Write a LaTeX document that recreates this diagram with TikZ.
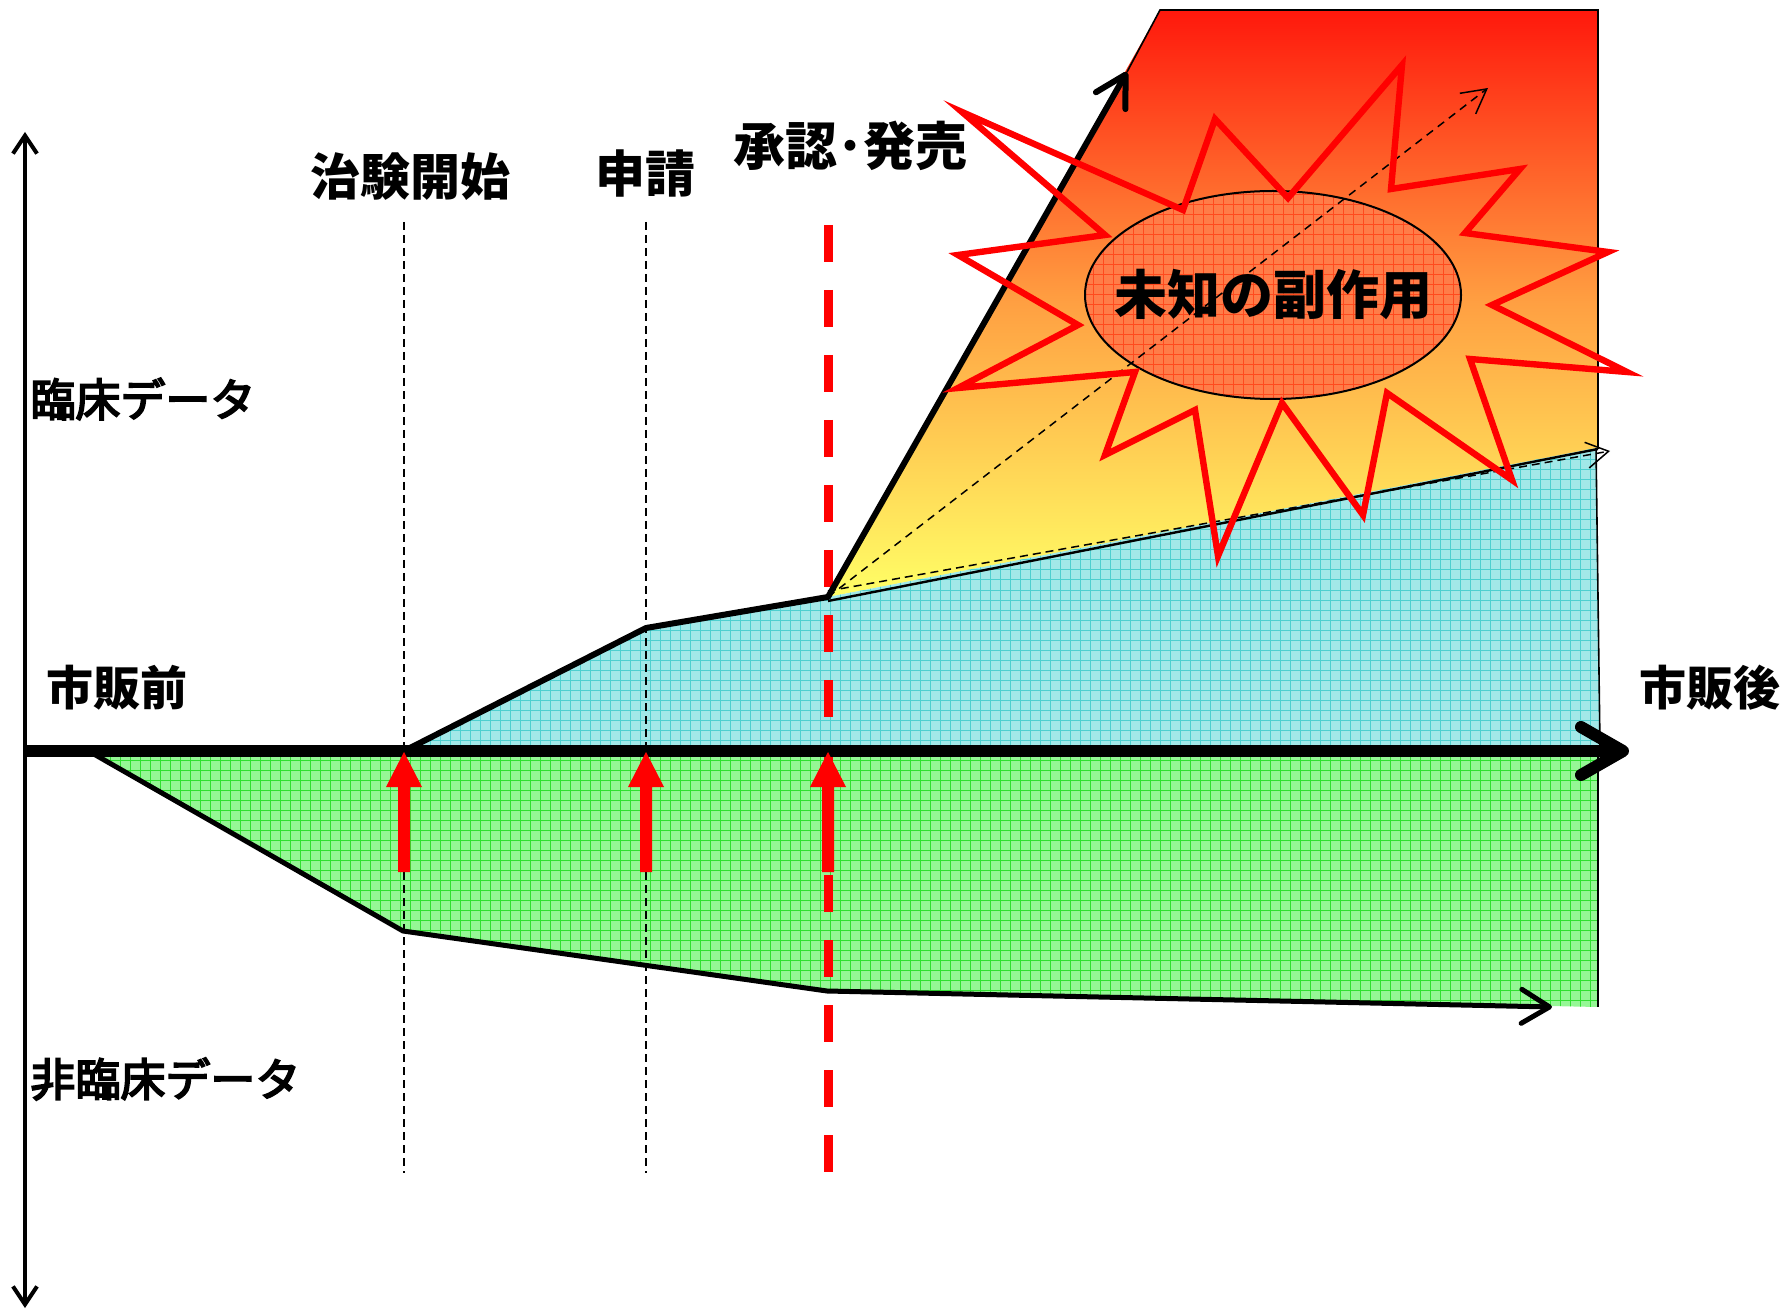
\documentclass[tikz,border=0pt]{standalone}
\usepackage{fontspec}
\newfontfamily\jp{Noto Sans CJK JP}
\newfontfamily\jpm{Noto Sans CJK JP}[FakeBold=4]
\usetikzlibrary{arrows.meta,shapes.geometric}
\definecolor{cyanfill}{HTML}{A2E8E8}
\definecolor{cyangrid}{HTML}{4ECFCF}
\definecolor{greenfill}{HTML}{95F795}
\definecolor{greengrid}{HTML}{30E030}
\definecolor{ellfill}{HTML}{FF7C48}
\definecolor{ellgrid}{HTML}{FF4A1E}
\definecolor{gradtop}{HTML}{FF180C}
\definecolor{gradmid}{HTML}{FFA042}
\definecolor{gradbot}{HTML}{FFFF66}
\tikzset{
  lab/.style={font={\jp\bfseries\fontsize{25pt}{30pt}\selectfont}, inner sep=0pt},
  labs/.style={font={\jpm\fontsize{22.5pt}{27pt}\selectfont}, inner sep=0pt},
  gridfill/.style 2 args={fill=#1, path picture={\draw[#2, line width=0.5pt, step=5pt]
      ([shift={(-10pt,-10pt)}]path picture bounding box.south west) grid
      ([shift={(10pt,10pt)}]path picture bounding box.north east);}},
  thinrule/.style={line width=0.6pt, dash pattern=on 4pt off 2.5pt},
  redrule/.style={red, line width=4.5pt, dash pattern=on 18.5pt off 14pt},
  redup/.style={fill=red},
  thick line/.style={black, line width=3pt, line join=round, line cap=round},
}
\begin{document}
\begin{tikzpicture}[x=0.5pt,y=-0.5pt]
\useasboundingbox (0,0) rectangle (1786,1309);
% key points
\coordinate (Ytop) at (25,132);
\coordinate (Ybot) at (25,1308);
\coordinate (Xo) at (25,751);
\coordinate (Xend) at (1629,751);
\coordinate (G0) at (92,753);
\coordinate (G1) at (403,931);
\coordinate (G2) at (827,991);
\coordinate (G3) at (1552,1007);
\coordinate (C0) at (404,751);
\coordinate (C1) at (646,628);
\coordinate (C2) at (828,597);
\coordinate (C3) at (1596,448);
\coordinate (R1) at (1127,72);
\coordinate (T1) at (1160,10);
\coordinate (T2) at (1598,10);
\coordinate (T3) at (1598,449);
\coordinate (D1) at (1488,88);
\coordinate (D2) at (1610,451);

% gradient region
\path[top color=gradtop, bottom color=gradbot, middle color=gradmid]
  (C2) -- (T1) -- (T2) -- (T3) -- cycle;
\draw[line width=0.8pt] (R1) -- (T1) -- (T2) -- (T3);

% cyan (clinical) region
\path[gridfill={cyanfill}{cyangrid}]
  (410,750) -- (C1) -- (C2) -- (C3) -- (1600,748) -- cycle;
\draw[line width=0.8pt] (C3) -- (1600,748);

% green (non-clinical) region
\path[gridfill={greenfill}{greengrid}]
  (G0) -- (G1) -- (G2) -- (1598,1007) -- (1598,754) -- cycle;
\draw[line width=0.8pt] (1598,754) -- (1598,1007);

% vertical milestone rules
\draw[thinrule] (404,222) -- (404,1173);
\draw[thinrule] (646,222) -- (646,1173);
\draw[redrule] (828,225) -- (828,1173);

% unknown side effects ellipse
\node[ellipse, draw, line width=1pt, gridfill={ellfill}{ellgrid},
      minimum width=188pt, minimum height=104pt, inner sep=0pt] (E) at (1273,295) {};

% dashed diagonal arrow
\draw[line width=0.75pt, dash pattern=on 4pt off 3pt,
      -{Straight Barb[length=12pt,width=13pt]}] (C2) -- (D1);

% thick outlines
\draw[thick line] (C0) -- (C1) -- (C2);
\draw[thick line, line cap=butt, -{Straight Barb[length=15pt,width=17pt,round]}] (C2) -- (R1);
\draw[black, line width=2.5pt, line join=round,
      -{Straight Barb[length=14pt,width=17pt,round]}] (G0) -- (G1) -- (G2) -- (G3);

% top of the clinical band
\draw[line width=1.2pt] ([yshift=-2]C2) -- (T3);
\draw[line width=0.75pt, dash pattern=on 4pt off 2.5pt,
      -{Straight Barb[length=11pt,width=13pt]}] ([yshift=3]C2) -- (D2);

% explosion
\draw[red, line width=3.2pt, miter limit=20]
  (962,112) -- (1183,210) -- (1215,119) -- (1288,198) -- (1402,65) -- (1391,189)
  -- (1520,169) -- (1465,233) -- (1608,252) -- (1492,305) -- (1627,372) -- (1470,359)
  -- (1512,480) -- (1387,393) -- (1363,515) -- (1282,403) -- (1218,556) -- (1195,410)
  -- (1105,455) -- (1135,372) -- (958,388) -- (1078,325) -- (958,255) -- (1105,235) -- cycle;

% axes
\draw[line width=2pt, {Straight Barb[length=9pt,width=12pt]}-{Straight Barb[length=9pt,width=12pt]}]
  (Ybot) -- (Ytop);
\draw[line width=6pt, -{Straight Barb[length=21pt,width=24pt,round]}] (Xo) -- (Xend);

% red milestone arrows
\foreach \xx in {404,646,828}{
  \fill[redup] ({\xx-6},872) -- ({\xx-6},787) -- ({\xx-18},787) -- (\xx,752)
    -- ({\xx+18},787) -- ({\xx+6},787) -- ({\xx+6},872) -- cycle;
}

% labels
\node[lab] (lbl1) at (410,177) {治験開始};
\node[lab] (lbl2) at (645,174) {申請};
\node[lab, font={\jp\bfseries\fontsize{26pt}{30pt}\selectfont}] (lbl3) at (850,146) {承認･発売};
\node[labs, anchor=west] (lbl4) at (30,399) {臨床データ};
\node[labs, anchor=west] (lbl5) at (30,1079) {非臨床データ};
\node[lab, font={\jp\bfseries\fontsize{23.5pt}{28pt}\selectfont}, anchor=west] (lbl6) at (46,688) {市販前};
\node[lab, font={\jp\bfseries\fontsize{23.5pt}{28pt}\selectfont}, anchor=west] (lbl7) at (1639,688) {市販後};
\node[lab, font={\jp\bfseries\fontsize{26.5pt}{30pt}\selectfont}] (lbl8) at (E.center) {未知の副作用};
\end{tikzpicture}
\end{document}
